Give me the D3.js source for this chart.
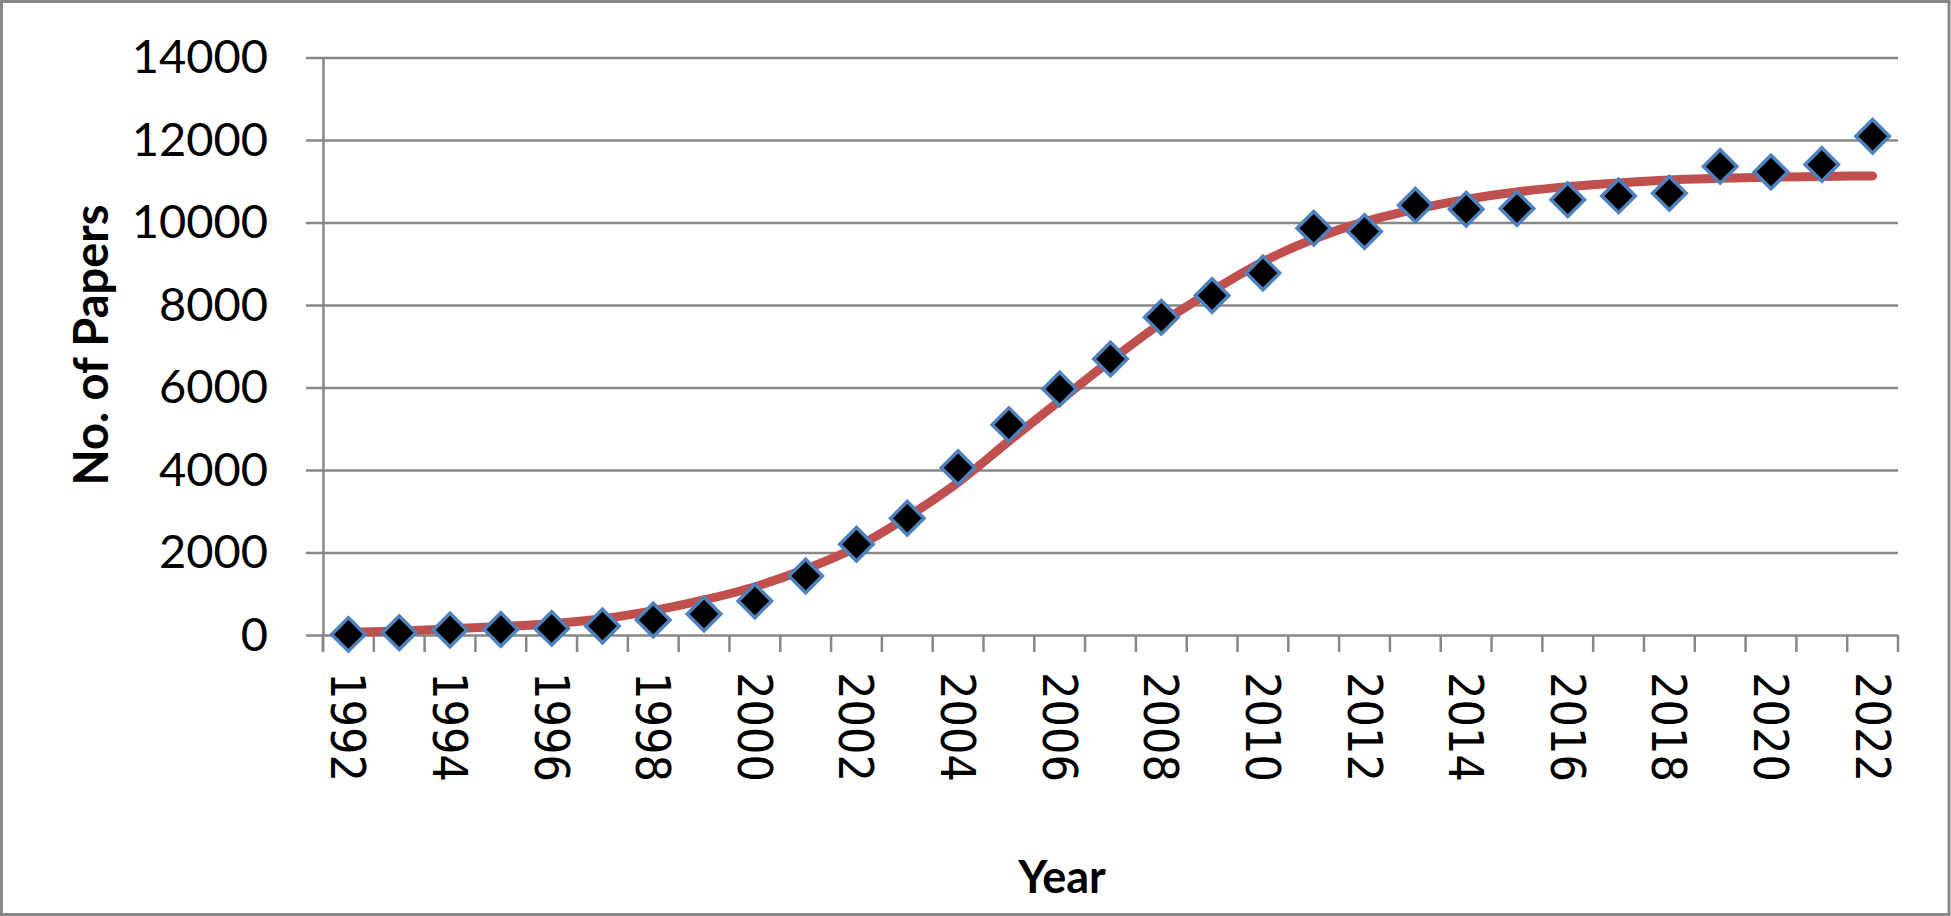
<!DOCTYPE html>
<html>
<head>
<meta charset="utf-8">
<title>No. of Papers per Year</title>
<style>
body {
	margin: 0;
	background-color: #ffffff;
}
</style>
</head>
<body>
<script src="https://cdn.jsdelivr.net/npm/d3@7"></script>
<script>

var years = [1992, 1993, 1994, 1995, 1996, 1997, 1998, 1999, 2000, 2001,
             2002, 2003, 2004, 2005, 2006, 2007, 2008, 2009, 2010, 2011,
             2012, 2013, 2014, 2015, 2016, 2017, 2018, 2019, 2020, 2021, 2022];

var papers = [15, 56, 120, 135, 160, 220, 365, 510, 825, 1430,
              2200, 2830, 4055, 5100, 5965, 6690, 7705, 8230, 8775, 9860,
              9780, 10420, 10320, 10340, 10550, 10645, 10710, 11360, 11225, 11405, 12090];

// trend line
var trend = [60, 95, 150, 205, 275, 395, 590, 850, 1170, 1600,
             2130, 2860, 3700, 4700, 5680, 6650, 7560, 8340, 9050, 9600,
             10020, 10320, 10560, 10740, 10870, 10960, 11030, 11070, 11095, 11115, 11130];

var yTicks = [0, 2000, 4000, 6000, 8000, 10000, 12000, 14000];
var xLabels = years.filter(function(d) { return d % 2 === 0; });

var w = 1951, h = 916;
var plotLeft = 323, plotRight = 1898, plotTop = 57.5, plotBottom = 635;

var svg = d3.select("body")
            .append("svg")
            .attr("width", w)
            .attr("height", h);

// outer border
svg.append("rect")
   .attr("x", 1.5).attr("y", 1.5)
   .attr("width", w - 3.5).attr("height", h - 3)
   .attr("fill", "#ffffff")
   .attr("stroke", "#878787")
   .attr("stroke-width", 3);

var x = d3.scaleBand().domain(years).range([plotLeft, plotRight]).padding(0);
var y = d3.scaleLinear().domain([0, 14000]).range([plotBottom, plotTop]);

// gridlines
svg.append("g")
   .attr("transform", "translate(" + plotLeft + ",0)")
   .call(d3.axisLeft(y).tickValues(yTicks).tickSize(-(plotRight - plotLeft)).tickFormat(""))
   .call(function(g) {
       g.select(".domain").remove();
       g.selectAll("line").attr("stroke", "#878787").attr("stroke-width", 2.5);
   });

// y axis with labels
svg.append("g")
   .attr("transform", "translate(" + plotLeft + ",0)")
   .call(d3.axisLeft(y).tickValues(yTicks).tickSize(17).tickSizeOuter(0)
           .tickPadding(38).tickFormat(d3.format("d")))
   .call(function(g) {
       g.select(".domain").attr("stroke", "#878787").attr("stroke-width", 2.5);
       g.selectAll("line").attr("stroke", "#878787").attr("stroke-width", 2.5);
       g.selectAll("text")
        .attr("font-family", "Lato, sans-serif")
        .attr("font-size", "47px")
        .attr("fill", "#000000");
   });

// y axis line extended down to the tick end
svg.append("line")
   .attr("x1", plotLeft).attr("x2", plotLeft)
   .attr("y1", plotBottom).attr("y2", plotBottom + 17)
   .attr("stroke", "#878787").attr("stroke-width", 2.5);

// x axis tick marks between categories
var bounds = years.map(function(d) { return x(d); }).concat([plotRight]);
svg.append("g")
   .selectAll("line")
   .data(bounds)
   .enter()
   .append("line")
   .attr("x1", function(d) { return d; })
   .attr("x2", function(d) { return d; })
   .attr("y1", plotBottom)
   .attr("y2", plotBottom + 17)
   .attr("stroke", "#878787")
   .attr("stroke-width", 2.5);

// x labels
svg.append("g")
   .attr("transform", "translate(0," + plotBottom + ")")
   .call(d3.axisBottom(x).tickValues(xLabels).tickSize(0).tickSizeOuter(0))
   .call(function(g) {
       g.select(".domain").remove();
       g.selectAll("text")
        .attr("font-family", "'DejaVu Sans Condensed', 'DejaVu Sans', sans-serif")
        .attr("font-size", "48px")
        .attr("fill", "#000000")
        .attr("text-anchor", "start")
        .attr("dy", null)
        .attr("y", 0)
        .attr("transform", "translate(0,37) rotate(90)")
        .attr("x", 0)
        .attr("dominant-baseline", "central");
   });

// trend line
var line = d3.line()
    .x(function(d, i) { return x(years[i]) + x.bandwidth() / 2; })
    .y(function(d) { return y(d); })
    .curve(d3.curveMonotoneX);

svg.append("path")
   .datum(trend)
   .attr("d", line)
   .attr("fill", "none")
   .attr("stroke", "#C0504D")
   .attr("stroke-width", 9)
   .attr("stroke-linecap", "round");

// diamonds
svg.append("g")
   .selectAll("path")
   .data(papers)
   .enter()
   .append("path")
   .attr("d", d3.symbol(d3.symbolSquare, 560))
   .attr("transform", function(d, i) {
       return "translate(" + (x(years[i]) + x.bandwidth() / 2) + "," + y(d) + ") rotate(45)";
   })
   .attr("fill", "#000000")
   .attr("stroke", "#4F81BD")
   .attr("stroke-width", 3.5);

// axis titles
svg.append("text")
   .text("No. of Papers")
   .attr("font-family", "Lato, sans-serif")
   .attr("font-weight", "bold")
   .attr("font-size", "47px")
   .attr("text-anchor", "middle")
   .attr("transform", "translate(108,345) rotate(-90)");

svg.append("text")
   .text("Year")
   .attr("font-family", "Lato, sans-serif")
   .attr("font-weight", "bold")
   .attr("font-size", "45px")
   .attr("text-anchor", "middle")
   .attr("x", 1062)
   .attr("y", 893);

</script>
</body>
</html>
